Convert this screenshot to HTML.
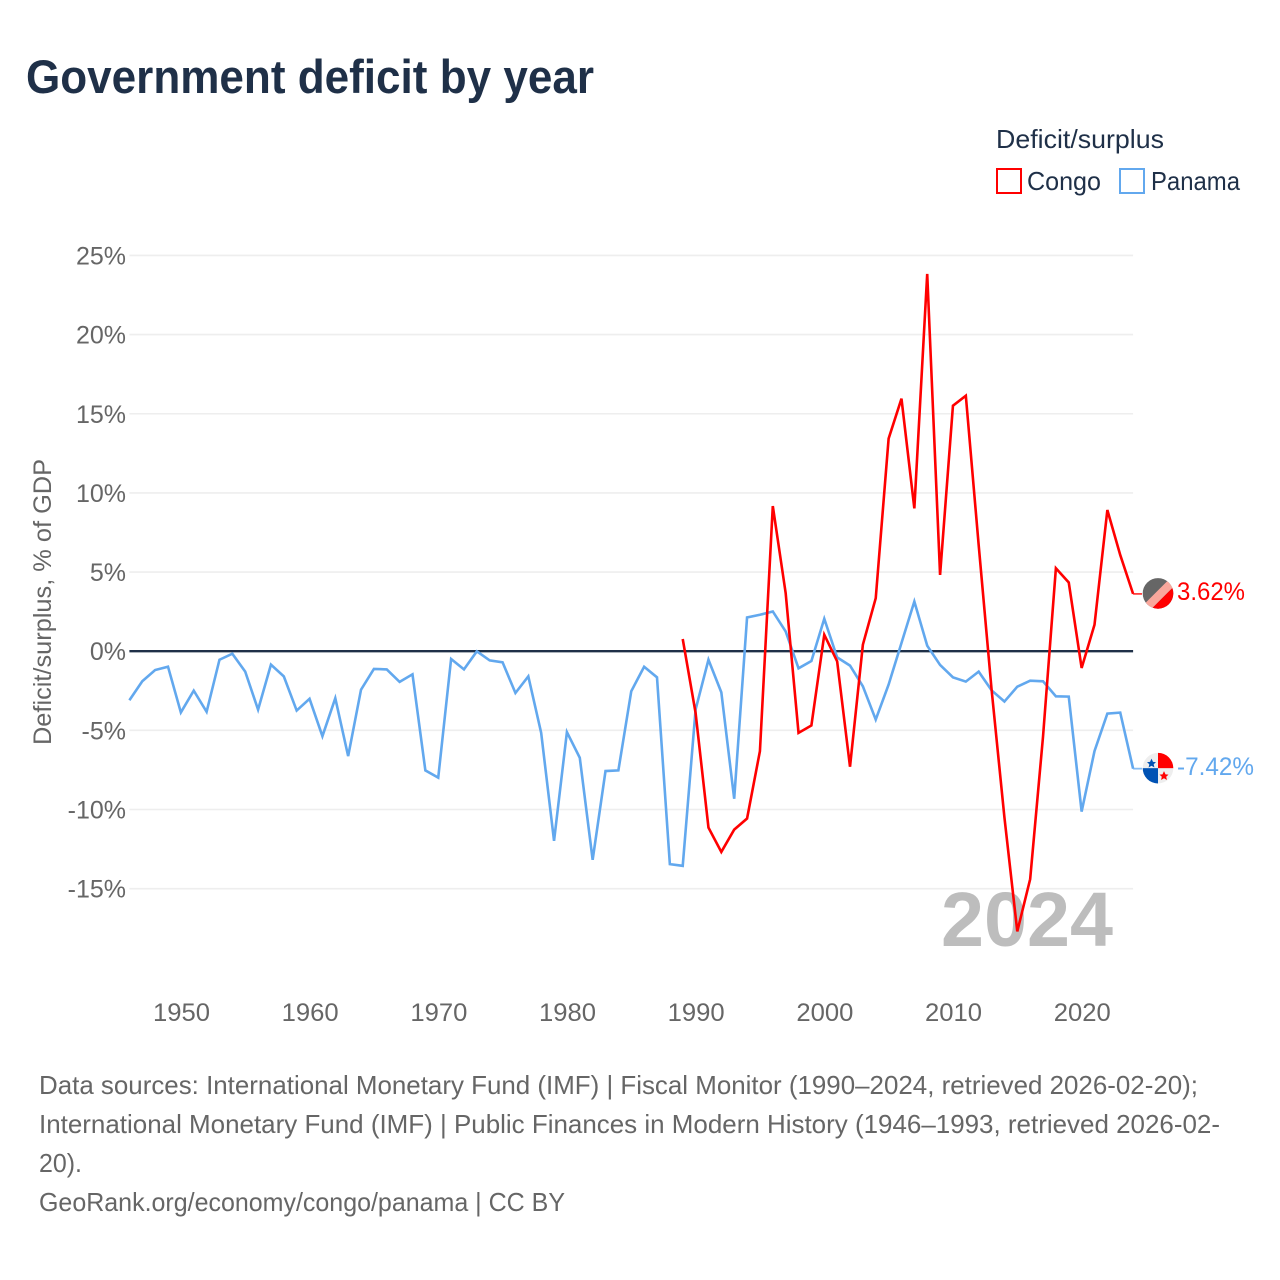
<!DOCTYPE html>
<html lang="en">
<head>
<meta charset="utf-8">
<title>Government deficit by year</title>
<style>
html,body{margin:0;padding:0;background:#fff;}
svg{display:block;font-family:"Liberation Sans",sans-serif;}
</style>
</head>
<body>
<svg id="chart" xmlns="http://www.w3.org/2000/svg" width="1280" height="1280" viewBox="0 0 1280 1280">
  <defs>
    <clipPath id="flag-clip"><circle cx="0" cy="0" r="15.3"></circle></clipPath>
  </defs>
  <rect x="0" y="0" width="1280" height="1280" fill="#ffffff"></rect>
  <text x="26" y="93" font-size="47" font-weight="bold" fill="#1f3048" textLength="568" lengthAdjust="spacingAndGlyphs">Government deficit by year</text>

  <g>
    <text x="996" y="148" font-size="26" fill="#1f3048" textLength="168" lengthAdjust="spacingAndGlyphs">Deficit/surplus</text>
    <g>
      <rect x="997" y="169" width="24" height="24" fill="#ffffff" stroke="#ff0000" stroke-width="2"></rect>
      <text x="1027" y="190" font-size="26" fill="#1f3048" textLength="74" lengthAdjust="spacingAndGlyphs">Congo</text>
    </g>
    <g>
      <rect x="1120" y="169" width="24" height="24" fill="#ffffff" stroke="#62a8ee" stroke-width="2"></rect>
      <text x="1151" y="190" font-size="26" fill="#1f3048" textLength="89" lengthAdjust="spacingAndGlyphs">Panama</text>
    </g>
  </g>

  <text transform="translate(51,602) rotate(-90)" text-anchor="middle" font-size="25" fill="#666666" textLength="286" lengthAdjust="spacingAndGlyphs">Deficit/surplus, % of GDP</text>

  <g id="grid"></g>
  <g id="y-ticks"></g>
  <g id="x-ticks"></g>

  <text x="941" y="946" font-size="77" font-weight="bold" fill="#bdbdbd" textLength="172" lengthAdjust="spacingAndGlyphs">2024</text>

  <g id="series"></g>

  <g id="flag-congo">
    <g clip-path="url(#flag-clip)">
      <rect x="-16" y="-16" width="32" height="32" fill="#666666"></rect>
      <polygon points="-16,13 13,-16 16,-16 16,-7 -7,16 -16,16" fill="#f9a79c"></polygon>
      <polygon points="-7,16 16,-7 16,16" fill="#ff0000"></polygon>
    </g>
  </g>
  <g id="flag-panama">
    <g clip-path="url(#flag-clip)">
      <rect x="-16" y="-16" width="32" height="32" fill="#eeeeee"></rect>
      <rect x="0" y="-16" width="16" height="16" fill="#ff0000"></rect>
      <rect x="-16" y="0" width="16" height="16" fill="#0052b4"></rect>
      <polygon transform="translate(0,1.5)" points="-6.5,-11 -5,-7.8 -2,-7.5 -4.3,-5.4 -3.6,-2.2 -6.5,-3.9 -9.4,-2.2 -8.7,-5.4 -11,-7.5 -8,-7.8" fill="#0052b4"></polygon>
      <polygon transform="translate(0,1)" points="6,2 7.5,5.2 10.5,5.5 8.2,7.6 8.9,10.8 6,9.1 3.1,10.8 3.8,7.6 1.5,5.5 4.5,5.2" fill="#ff0000"></polygon>
    </g>
  </g>
  <text id="label-congo" x="1177" font-size="25" fill="#ff0000" textLength="68" lengthAdjust="spacingAndGlyphs"></text>
  <text id="label-panama" x="1177" font-size="25" fill="#62a8ee" textLength="77" lengthAdjust="spacingAndGlyphs"></text>

  <g font-size="26" fill="#666666">
    <text x="39" y="1094" textLength="1159" lengthAdjust="spacingAndGlyphs">Data sources: International Monetary Fund (IMF) | Fiscal Monitor (1990–2024, retrieved 2026-02-20);</text>
    <text x="39" y="1133" textLength="1181" lengthAdjust="spacingAndGlyphs">International Monetary Fund (IMF) | Public Finances in Modern History (1946–1993, retrieved 2026-02-</text>
    <text x="39" y="1172" textLength="43" lengthAdjust="spacingAndGlyphs">20).</text>
    <text x="39" y="1211" textLength="526" lengthAdjust="spacingAndGlyphs">GeoRank.org/economy/congo/panama | CC BY</text>
  </g>
</svg>

<script>
var yTickValues = [25, 20, 15, 10, 5, 0, -5, -10, -15];
var xTickYears = [1950, 1960, 1970, 1980, 1990, 2000, 2010, 2020];
var panamaStartYear = 1946;
var panamaValues = [
  -3.10, -1.90, -1.19, -0.98, -3.87, -2.49, -3.83, -0.54, -0.16, -1.29,
  -3.69, -0.85, -1.59, -3.75, -3.01, -5.37, -2.97, -6.63, -2.43, -1.12,
  -1.15, -1.94, -1.46, -7.53, -7.99, -0.49, -1.15, -0.01, -0.58, -0.70,
  -2.64, -1.59, -5.16, -11.98, -5.11, -6.73, -13.18, -7.57, -7.53, -2.53,
  -0.98, -1.65, -13.45, -13.56, -3.69, -0.54, -2.60, -9.32, 2.13, 2.30,
  2.51, 1.25, -1.08, -0.62, 2.05, -0.39, -0.91, -2.22, -4.32, -2.11,
  0.52, 3.14, 0.35, -0.87, -1.65, -1.92, -1.29, -2.47, -3.18, -2.24,
  -1.86, -1.90, -2.85, -2.87, -10.13, -6.31, -3.94, -3.88, -7.42
];
var congoStartYear = 1989;
var congoValues = [
  0.77, -3.90, -11.14, -12.68, -11.27, -10.57, -6.31, 9.17, 3.67, -5.16,
  -4.69, 1.04, -0.64, -7.30, 0.41, 3.35, 13.43, 15.95, 9.02, 23.83,
  4.82, 15.51, 16.14, 6.70, -2.40, -10.50, -17.70, -14.40, -5.40, 5.24,
  4.34, -1.06, 1.67, 8.92, 6.08, 3.62
];
var plotLeft = 129.4, plotRight = 1133.1, firstYear = 1946, lastYear = 2024;
var zeroY = 651.2, pxPerPercent = 15.83;
var SVGNS = 'http://www.w3.org/2000/svg';

function xScale(year) {
  return plotLeft + (year - firstYear) * (plotRight - plotLeft) / (lastYear - firstYear);
}
function yScale(v) {
  return zeroY - v * pxPerPercent;
}
function make(tag, attrs, parent) {
  var el = document.createElementNS(SVGNS, tag);
  for (var k in attrs) el.setAttribute(k, attrs[k]);
  parent.appendChild(el);
  return el;
}

var grid = document.getElementById('grid');
var yTicksGroup = document.getElementById('y-ticks');
yTickValues.forEach(function (v) {
  var line = make('line', {
    x1: plotLeft, x2: plotRight, y1: yScale(v), y2: yScale(v),
    stroke: v === 0 ? '#1f3048' : '#eeeeee',
    'stroke-width': v === 0 ? 2.4 : 1.6
  }, grid);
  
  
  var label = make('text', {
    x: 126, y: yScale(v) + 9, 'text-anchor': 'end', 'font-size': 25, fill: '#666666'
  }, yTicksGroup);
  label.textContent = v + '%';
  
  
});

var xTicksGroup = document.getElementById('x-ticks');
xTickYears.forEach(function (yr) {
  var label = make('text', {
    x: xScale(yr) + 0.6, y: 1021, 'text-anchor': 'middle', 'font-size': 25, fill: '#666666',
    textLength: 57, lengthAdjust: 'spacingAndGlyphs'
  }, xTicksGroup);
  label.textContent = String(yr);
  
  
});

function drawSeries(values, startYear, color, name) {
  var group = document.getElementById('series');
  var pts = values.map(function (v, i) {
    return xScale(startYear + i).toFixed(2) + ',' + yScale(v).toFixed(2);
  }).join(' ');
  var line = make('polyline', {
    points: pts, fill: 'none', stroke: color, 'stroke-width': 2.6, 'stroke-linejoin': 'miter'
  }, group);
  
  
  var last = values[values.length - 1];
  var leader = make('line', {
    x1: plotRight, x2: 1142, y1: yScale(last), y2: yScale(last),
    stroke: color, 'stroke-width': 1.8, opacity: 0.75
  }, group);
  
  
  document.getElementById('flag-' + name).setAttribute('transform', 'translate(1158,' + (yScale(last) - 0.5).toFixed(2) + ')');
  var label = document.getElementById('label-' + name);
  label.setAttribute('y', (yScale(last) + 6.3).toFixed(2));
  label.textContent = last.toFixed(2) + '%';
}
drawSeries(panamaValues, panamaStartYear, '#62a8ee', 'panama');
drawSeries(congoValues, congoStartYear, '#ff0000', 'congo');
</script>
</body>
</html>
